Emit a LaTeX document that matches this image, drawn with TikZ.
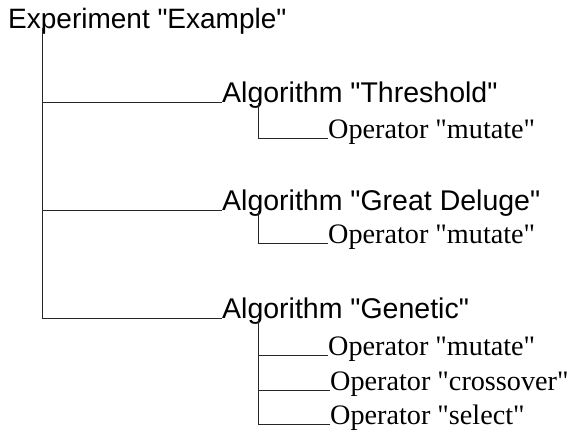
\documentclass[tikz,border=0pt]{standalone}
\usepackage{fontspec}
\setmainfont{Liberation Serif}[Ligatures=ResetAll]
\newfontfamily\seriff{Liberation Serif}
\newfontfamily\sansf{Liberation Sans}
\begin{document}
\begin{tikzpicture}[x=1pt,y=1pt,
  lbl/.style={inner sep=0pt,anchor=base west},
  top/.style={lbl,font=\sansf\fontsize{28}{30}\selectfont},
  alg/.style={lbl,font=\sansf\fontsize{28.5}{30}\selectfont},
  op/.style={lbl,font=\seriff\fontsize{28.2}{30}\selectfont},
  conn/.style={line width=0.9pt,draw=black!85}]
\useasboundingbox (0,0) rectangle (572,-445);
\node[top] (e) at (8,-28) {Experiment "Example"};
\node[alg] (a1) at (222,-102.5) {Algorithm "Threshold"};
\node[alg] (a2) at (222,-210.5) {Algorithm "Great Deluge"};
\node[alg] (a3) at (222,-318.5) {Algorithm "Genetic"};
\node[op] (o1) at (328,-138) {Operator "mutate"};
\node[op] (o2) at (328,-243) {Operator "mutate"};
\node[op] (o3) at (328,-355) {Operator "mutate"};
\node[op] (o4) at (330,-390.5) {Operator "crossover"};
\node[op] (o5) at (330,-424.5) {Operator "select"};
\draw[conn] ([xshift=34pt]e.base west) |- (a3.base west);
\draw[conn] ([xshift=34pt]e.base west) |- (a1.base west);
\draw[conn] ([xshift=34pt]e.base west) |- (a2.base west);
\draw[conn] ([xshift=36pt]a1.base west) |- (o1.base west);
\draw[conn] ([xshift=36pt]a2.base west) |- (o2.base west);
\draw[conn] ([xshift=36pt]a3.base west) |- (o5.base west);
\draw[conn] ([xshift=36pt]a3.base west) |- (o3.base west);
\draw[conn] ([xshift=36pt]a3.base west) |- (o4.base west);
\end{tikzpicture}
\end{document}
